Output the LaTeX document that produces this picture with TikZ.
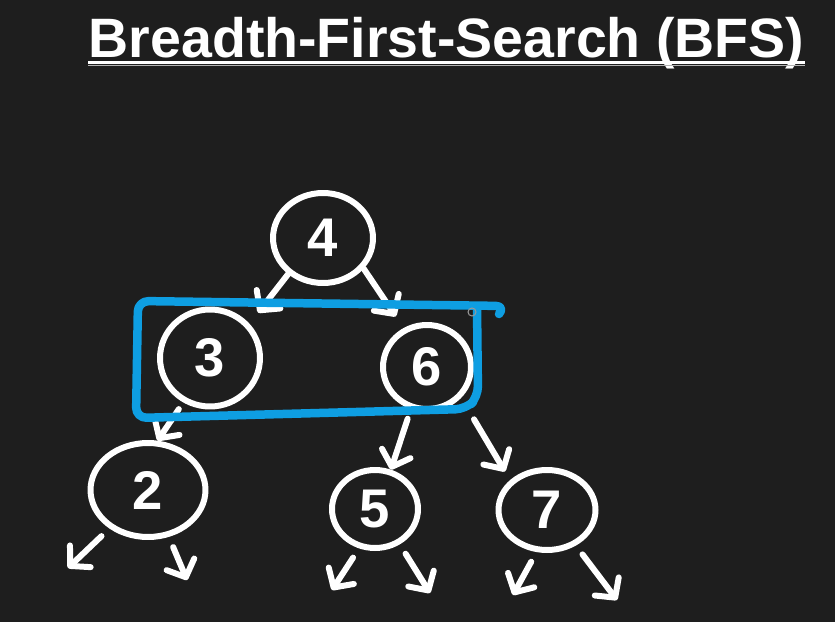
\documentclass[tikz,border=0pt]{standalone}
\usepackage{fontspec}
\setmainfont{Liberation Sans}
\usetikzlibrary{shapes.geometric,arrows.meta}
\definecolor{boardbg}{RGB}{30,30,30}
\definecolor{pickblue}{RGB}{14,158,226}
\tikzset{
  vertex/.style={draw=white, line width=0.12cm, ellipse, inner sep=0pt, text=white, font=\fontsize{31}{34}\selectfont\bfseries},
  treearrow/.style={draw=white, line width=0.12cm, line cap=round, -{Straight Barb[length=0.28cm, width=0.6cm, round]}},
  loosearrow/.style={treearrow, shorten <=0.22cm},
}

\begin{document}
\begin{tikzpicture}[x=0.02cm, y=-0.02cm]
\fill[boardbg] (0,0) rectangle (835,622);
\node[font=\fontsize{31.6}{36}\selectfont\bfseries, text=white, inner sep=0pt, anchor=base] (ttl) at (446.5,57) {Breadth-First-Search (BFS)};
\draw[white, line width=0.06cm] ([yshift=-0.11cm]ttl.base west) -- ([yshift=-0.11cm]ttl.base east);
\draw[gray!60, line width=0.02cm] ([yshift=-0.17cm]ttl.base west) -- ([yshift=-0.17cm]ttl.base east);

\node[vertex, minimum width=2cm, minimum height=1.8cm] (n4) at (323,238) {4};
\node[vertex, minimum width=2cm, minimum height=1.94cm] (n3) at (210,358) {3};
\node[vertex, minimum width=1.76cm, minimum height=1.68cm] (n6) at (427,367) {6};
\node[vertex, minimum width=2.3cm, minimum height=1.88cm] (n2) at (148,490) {2};
\node[vertex, minimum width=1.72cm, minimum height=1.56cm] (n5) at (375,509) {5};
\node[vertex, minimum width=1.94cm, minimum height=1.6cm] (n7) at (547,510) {7};

\coordinate (end2l) at (68,568);
\coordinate (end2r) at (187,580);
\coordinate (end5l) at (332,590);
\coordinate (end5r) at (430,593);
\coordinate (end7l) at (513,595);
\coordinate (end7r) at (617,600);

\draw[treearrow, shorten >=0.28cm] (n4.-134) -- (n3.41);
\draw[treearrow, shorten >=0.28cm] (n4.-37) -- (n6.121);
\draw[treearrow, shorten <=0.16cm] (n3.-121) -- (n2.79);
\draw[treearrow, shorten <=0.2cm] (n6.-111) -- (n5.68);
\draw[treearrow, shorten <=0.5cm, shorten >=0.2cm] (n6.-42) -- (n7.141);

\draw[loosearrow] (n2.-135) -- (end2l);
\draw[loosearrow] (n2.-66) -- (end2r);
\draw[loosearrow] (n5.-112) -- (end5l);
\draw[loosearrow] (n5.-55) -- (end5r);
\draw[loosearrow] (n7.-104) -- (end7l);
\draw[loosearrow] (n7.-51) -- (end7r);

\draw[pickblue, line width=0.17cm, line cap=round, line join=round, rounded corners=6]
  (499,314) -- (506,306) -- (138,301) -- (136,418) -- (466,409) -- (478,397) -- (477,306);
\draw[gray!80, line width=0.02cm] (472,312) circle[radius=4];
\end{tikzpicture}
\end{document}
